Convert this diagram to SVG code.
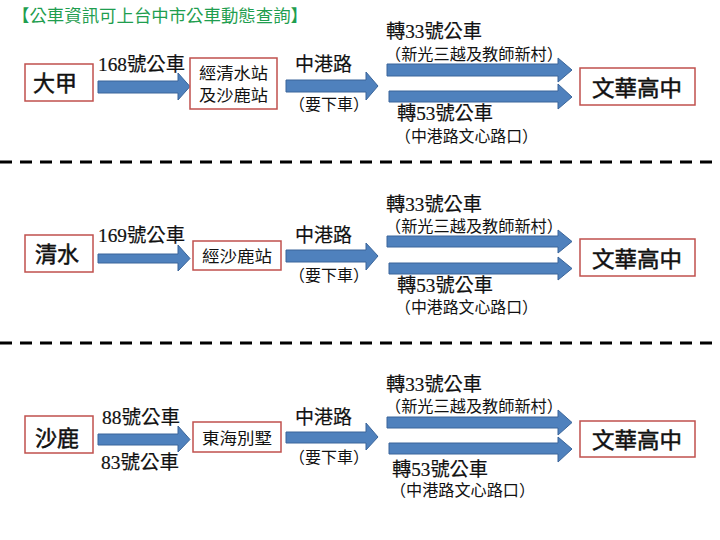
<svg xmlns="http://www.w3.org/2000/svg" width="720" height="540" viewBox="0 0 720 540">
<style>
.t{font-family:"Liberation Serif","Noto Sans CJK TC",serif;fill:#111}
.big{font-size:22px;stroke:#111;stroke-width:0.5}
.mid{font-size:19px;stroke:#111;stroke-width:0.2}
.sm{font-size:16px}
.box{fill:#fff;stroke:#c0504d;stroke-width:1.5}
.arr{fill:#4f81bd;stroke:#3a659a;stroke-width:1}
.dash{stroke:#000;stroke-width:3;stroke-dasharray:12 8}
</style>
<rect width="720" height="540" fill="#fff"/>
<text x="12" y="22" class="t" style="fill:#1f9e4f;font-size:17px" textLength="296" lengthAdjust="spacingAndGlyphs">【公車資訊可上台中市公車動態查詢】</text>

<g id="dividers">
<line x1="0" y1="162" x2="720" y2="162" class="dash"/>
<line x1="0" y1="343" x2="720" y2="343" class="dash"/>
</g>

<g id="connectors">
<path class="arr" d="M98,81 H178 V73 L190,86.5 L178,100 V93 H98 Z"/>
<path class="arr" d="M286,80 H366 V72 L378,86 L366,100 V92 H286 Z"/>
<path class="arr" d="M387,64 H558 V58 L572,70 L558,82 V76 H387 Z"/>
<path class="arr" d="M389,91 H558 V84 L572,97 L558,109 V102 H389 Z"/>
<path class="arr" d="M98,254 H178 V245 L190,258.5 L178,271 V263 H98 Z"/>
<path class="arr" d="M286,250 H366 V243 L378,256 L366,270 V262 H286 Z"/>
<path class="arr" d="M387,236 H558 V230 L572,241.5 L558,253 V247 H387 Z"/>
<path class="arr" d="M389,263 H558 V257 L572,268.5 L558,280 V274 H389 Z"/>
<path class="arr" d="M98,434 H178 V426 L190,439.5 L178,452 V445 H98 Z"/>
<path class="arr" d="M286,432 H366 V423 L378,437 L366,450 V443 H286 Z"/>
<path class="arr" d="M387,417 H558 V410 L572,422.5 L558,435 V428 H387 Z"/>
<path class="arr" d="M389,443 H558 V437 L572,449 L558,462 V454 H389 Z"/>
</g>

<g id="labels">
<text class="t mid" x="98" y="71" textLength="87" lengthAdjust="spacingAndGlyphs">168號公車</text>
<text class="t mid" x="295" y="71" textLength="57" lengthAdjust="spacingAndGlyphs">中港路</text>
<text class="t sm" x="289" y="110" textLength="80" lengthAdjust="spacingAndGlyphs">（要下車）</text>
<text class="t mid" x="386" y="38" textLength="96" lengthAdjust="spacingAndGlyphs">轉33號公車</text>
<text class="t sm" x="385" y="60" textLength="178" lengthAdjust="spacingAndGlyphs">（新光三越及教師新村）</text>
<text class="t mid" x="397" y="120" textLength="96" lengthAdjust="spacingAndGlyphs">轉53號公車</text>
<text class="t sm" x="395" y="142" textLength="143" lengthAdjust="spacingAndGlyphs">（中港路文心路口）</text>

<text class="t mid" x="98" y="242" textLength="87" lengthAdjust="spacingAndGlyphs">169號公車</text>
<text class="t mid" x="295" y="242" textLength="57" lengthAdjust="spacingAndGlyphs">中港路</text>
<text class="t sm" x="289" y="281" textLength="80" lengthAdjust="spacingAndGlyphs">（要下車）</text>
<text class="t mid" x="386" y="211" textLength="96" lengthAdjust="spacingAndGlyphs">轉33號公車</text>
<text class="t sm" x="385" y="232" textLength="178" lengthAdjust="spacingAndGlyphs">（新光三越及教師新村）</text>
<text class="t mid" x="397" y="292" textLength="96" lengthAdjust="spacingAndGlyphs">轉53號公車</text>
<text class="t sm" x="395" y="313" textLength="143" lengthAdjust="spacingAndGlyphs">（中港路文心路口）</text>

<text class="t mid" x="102" y="424" textLength="78" lengthAdjust="spacingAndGlyphs">88號公車</text>
<text class="t mid" x="101" y="469" textLength="78" lengthAdjust="spacingAndGlyphs">83號公車</text>
<text class="t mid" x="295" y="424" textLength="57" lengthAdjust="spacingAndGlyphs">中港路</text>
<text class="t sm" x="289" y="463" textLength="80" lengthAdjust="spacingAndGlyphs">（要下車）</text>
<text class="t mid" x="386" y="391" textLength="96" lengthAdjust="spacingAndGlyphs">轉33號公車</text>
<text class="t sm" x="385" y="412" textLength="178" lengthAdjust="spacingAndGlyphs">（新光三越及教師新村）</text>
<text class="t mid" x="392" y="476" textLength="96" lengthAdjust="spacingAndGlyphs">轉53號公車</text>
<text class="t sm" x="390" y="496" textLength="145" lengthAdjust="spacingAndGlyphs">（中港路文心路口）</text>
</g>

<g id="node-dajia">
<rect class="box" x="25" y="64" width="68" height="37"/>
<text class="t big" x="33" y="91" textLength="44" lengthAdjust="spacingAndGlyphs">大甲</text>
</g>
<g id="node-via1">
<rect class="box" x="190" y="58" width="87" height="51"/>
<text class="t sm" x="199" y="79" textLength="69" lengthAdjust="spacingAndGlyphs">經清水站</text>
<text class="t sm" x="199" y="101" textLength="69" lengthAdjust="spacingAndGlyphs">及沙鹿站</text>
</g>
<g id="node-dest1">
<rect class="box" x="580" y="68" width="115" height="37"/>
<text class="t big" x="592" y="96" textLength="90" lengthAdjust="spacingAndGlyphs">文華高中</text>
</g>

<g id="node-qingshui">
<rect class="box" x="25" y="235" width="68" height="37"/>
<text class="t big" x="35" y="262" textLength="44" lengthAdjust="spacingAndGlyphs">清水</text>
</g>
<g id="node-via2">
<rect class="box" x="193" y="241" width="88" height="29"/>
<text class="t sm" x="202" y="262" textLength="70" lengthAdjust="spacingAndGlyphs">經沙鹿站</text>
</g>
<g id="node-dest2">
<rect class="box" x="580" y="239" width="115" height="37"/>
<text class="t big" x="592" y="267" textLength="90" lengthAdjust="spacingAndGlyphs">文華高中</text>
</g>

<g id="node-shalu">
<rect class="box" x="25" y="416" width="68" height="37"/>
<text class="t big" x="35" y="446" textLength="44" lengthAdjust="spacingAndGlyphs">沙鹿</text>
</g>
<g id="node-via3">
<rect class="box" x="193" y="422" width="88" height="30"/>
<text class="t sm" x="202" y="444" textLength="70" lengthAdjust="spacingAndGlyphs">東海別墅</text>
</g>
<g id="node-dest3">
<rect class="box" x="580" y="421" width="115" height="36"/>
<text class="t big" x="592" y="448" textLength="90" lengthAdjust="spacingAndGlyphs">文華高中</text>
</g>
</svg>
